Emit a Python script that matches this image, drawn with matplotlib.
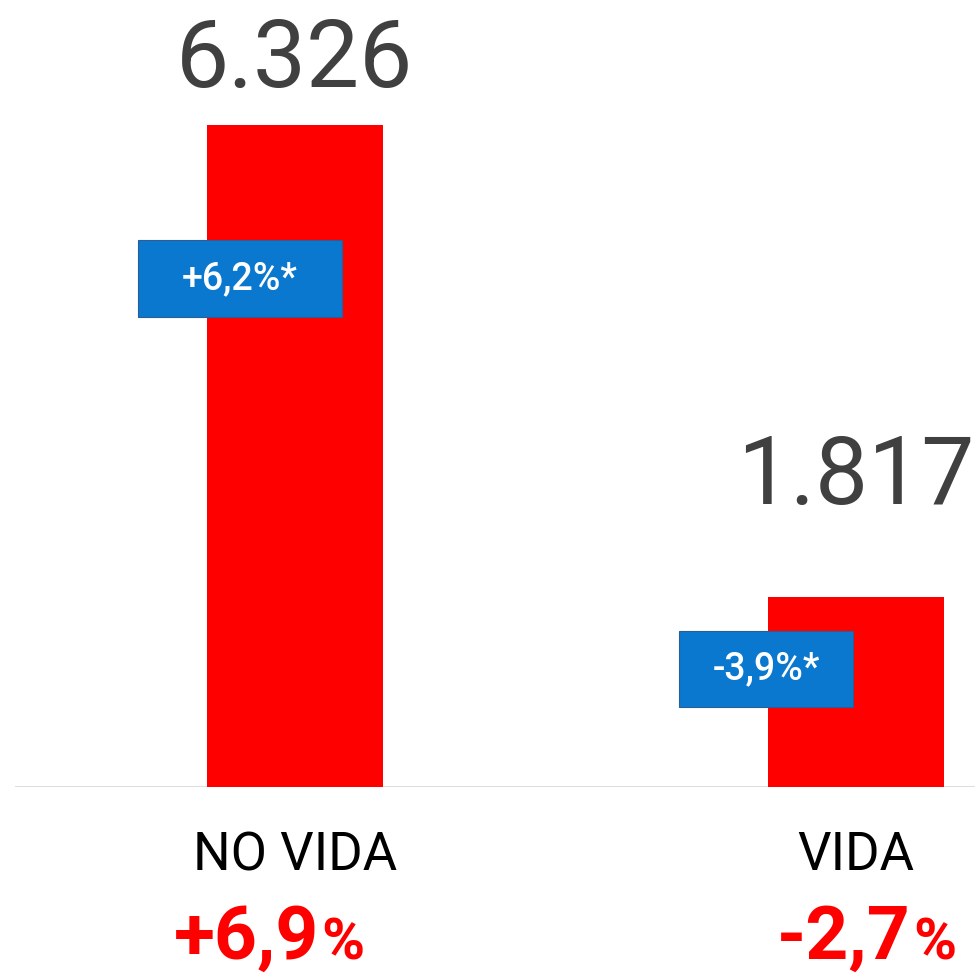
import matplotlib
matplotlib.use("Agg")
import matplotlib.pyplot as plt
from matplotlib.patches import Rectangle
from matplotlib.transforms import blended_transform_factory
import numpy as np

# data
categories = ["NO VIDA", "VIDA"]
values = [6326, 1817]
value_labels = ["6.326", "1.817"]
badge_labels = ["+6,2%*", "-3,9%*"]
change_labels = ["+6,9", "-2,7"]

RED = "#ff0000"
BLUE = "#0a78cf"
GREY = "#404040"

plt.rcParams["font.family"] = ["Roboto", "DejaVu Sans"]

fig = plt.figure(figsize=(9.75, 9.73), dpi=100)
ax = fig.add_axes([15 / 975, 186 / 973, 960 / 975, 787 / 973])

x = np.arange(len(categories))
bar_w = 0.3137
ax.bar(x, values, width=bar_w, color=RED, zorder=2)
ax.set_xlim(-0.499, 1.212)
ax.set_ylim(0, values[0] * 787 / 662)

# baseline
ax.axhline(0, color="#d9d9d9", lw=2, zorder=1)

for s in ax.spines.values():
    s.set_visible(False)
ax.set_xticks([])
ax.set_yticks([])

# value labels above bars (gap in pixels differs per bar in the original)
label_gap = [19, 74]
for xi, v, lab, gap in zip(x, values, value_labels, label_gap):
    ax.annotate(lab, (xi, v), xytext=(0, gap), textcoords="offset pixels",
                ha="center", va="bottom", fontsize=68, color=GREY)

# blue badges (left edge offset, width, bottom, top as share of bar)
badge_box = [(-0.2799, 0.3636, 0.710, 0.826), (-0.3155, 0.3102, 0.420, 0.821)]
for xi, v, lab, (dx, w, b0, b1) in zip(x, values, badge_labels, badge_box):
    y0 = v * b0
    h = v * (b1 - b0)
    ax.add_patch(Rectangle((xi + dx, y0), w, h, facecolor=BLUE,
                           edgecolor="#2a5f95", lw=0.8, zorder=3))
    ax.text(xi + dx + w / 2, y0 + h / 2, lab, ha="center", va="center",
            fontsize=27, color="white", fontweight="medium", zorder=4)

# category names and change under the axis
tr = blended_transform_factory(ax.transData, fig.transFigure)
for xi, cat in zip(x, categories):
    ax.text(xi, 117 / 973, cat, transform=tr, ha="center", va="center",
            fontsize=38, color="black")

split = [0.043, 0.098]
for xi, lab, sp in zip(x, change_labels, split):
    ax.text(xi + sp, 14 / 973, lab, transform=tr, ha="right", va="baseline",
            fontsize=54, color=RED, fontweight="bold")
    ax.text(xi + sp + 0.004, 14 / 973, "%", transform=tr, ha="left",
            va="baseline", fontsize=42, color=RED, fontweight="bold")

fig.savefig("out.png", dpi=100)
